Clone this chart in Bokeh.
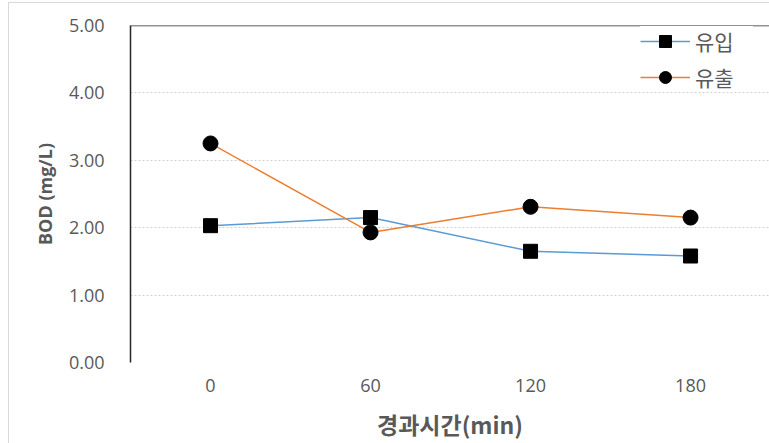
from bokeh.plotting import figure
from bokeh.models import (FixedTicker, NumeralTickFormatter, Span,
                          Legend, LegendItem, Range1d)
from bokeh.embed import file_html
from bokeh.resources import INLINE

# BOD over elapsed time (min)
times = [0, 60, 120, 180]
inflow = [2.03, 2.15, 1.65, 1.58]      # 유입
outflow = [3.25, 1.93, 2.31, 2.15]     # 유출
y_ticks = [0, 1, 2, 3, 4, 5]

GRAY_TEXT = "#595959"
BLUE = "#5B9BD5"
ORANGE = "#ED7D31"

p = figure(width=769, height=443, output_backend="svg", toolbar_location=None,
           x_range=Range1d(-30, 209.6), y_range=Range1d(0, 5),
           min_border_left=130, min_border_right=0, min_border_top=25,
           min_border_bottom=80)
p.outline_line_color = None
p.background_fill_color = "white"
# transparent border area so the page-level chart border shows through
p.border_fill_alpha = 0
p.styles = {
    "background": ("linear-gradient(#D9D9D9, #D9D9D9) 8px 2px / 1px 100% no-repeat, "
                   "linear-gradient(#D9D9D9, #D9D9D9) 8px 2px / 100% 1px no-repeat, white"),
}

# axes
p.yaxis.ticker = FixedTicker(ticks=y_ticks)
p.yaxis.formatter = NumeralTickFormatter(format="0.00")
p.xaxis.ticker = FixedTicker(ticks=times)
for ax in (p.xaxis[0], p.yaxis[0]):
    ax.major_tick_line_color = None
    ax.minor_tick_line_color = None
    ax.major_tick_out = 0
    ax.major_tick_in = 0
    ax.major_label_text_color = GRAY_TEXT
    ax.major_label_text_font = "Open Sans"
    ax.major_label_text_font_size = "18px"
    ax.axis_label_text_color = GRAY_TEXT
    ax.axis_label_text_font_style = "bold"
p.xaxis.axis_line_color = None
p.yaxis.axis_line_color = "#262626"
p.yaxis.axis_line_width = 1.5
p.yaxis.major_label_standoff = 26
p.xaxis.major_label_standoff = 16

p.yaxis.axis_label = "BOD (mg/L)"
p.yaxis.axis_label_text_font = "Open Sans"
p.yaxis.axis_label_text_font_size = "18px"
p.yaxis.axis_label_standoff = 9
p.xaxis.axis_label = "경과시간(min)"
p.xaxis.axis_label_text_font = "Noto Sans CJK KR"
p.xaxis.axis_label_text_font_size = "23px"
p.xaxis.axis_label_standoff = 12

# grid
p.xgrid.grid_line_color = None
p.ygrid.ticker = FixedTicker(ticks=y_ticks)
p.ygrid.grid_line_color = "#D0D0D0"
p.ygrid.grid_line_dash = "2 2"
p.ygrid.grid_line_width = 1

# series
l1 = p.line(times, inflow, line_color=BLUE, line_width=1.5)
m1 = p.scatter(times, inflow, marker="square", size=14, fill_color="black", line_color="black")
l2 = p.line(times, outflow, line_color=ORANGE, line_width=1.5)
m2 = p.scatter(times, outflow, marker="circle", size=15, fill_color="black", line_color="black")

legend = Legend(items=[LegendItem(label="유입", renderers=[l1, m1]),
                       LegendItem(label="유출", renderers=[l2, m2])],
                location=(510, 270), orientation="vertical",
                glyph_width=50, glyph_height=30, label_height=30, label_width=58,
                label_standoff=5, spacing=6, padding=8, margin=0,
                label_text_font="Noto Sans CJK KR", label_text_font_size="21px",
                label_text_color=GRAY_TEXT, border_line_color=None,
                background_fill_color="white", background_fill_alpha=1)
p.add_layout(legend)

# top border of the plot area, drawn over the legend box
p.add_layout(Span(location=5, dimension="width", line_color="#262626", line_width=1.5))

open("out.html", "w").write(file_html(p, INLINE))
